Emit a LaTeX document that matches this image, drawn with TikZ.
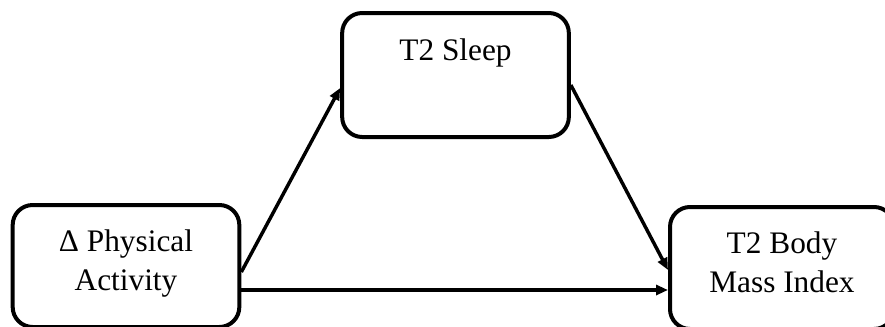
\documentclass[tikz,border=0pt]{standalone}
\usepackage{fontspec}
\setmainfont{Liberation Serif}
\usetikzlibrary{arrows.meta,calc}
\begin{document}
\begin{tikzpicture}[x=0.75pt,y=-0.75pt,
  box/.style={draw=black,line width=3pt,rounded corners=15pt,inner sep=0pt},
  lbl/.style={inner sep=0pt,align=center,font=\fontsize{23.5pt}{29pt}\selectfont},
  conn/.style={draw=black,line width=2.6pt,-{Triangle[length=9pt,width=7.5pt]}}]
\useasboundingbox (0,0) rectangle (885,326);
\node[box,minimum width=170pt,minimum height=91.5pt] (pa) at (126,266) {};
\node[box,minimum width=170pt,minimum height=93pt] (sl) at (455.5,75) {};
\node[box,minimum width=168pt,minimum height=91.5pt] (bmi) at (782,268) {};
\node[lbl,anchor=base] (tsl) at (455.5,60) {T2 Sleep};
\node[lbl,anchor=base] (tpa) at (126,290) {Δ Physical\\Activity};
\node[lbl,anchor=base] (tbmi) at (782,292) {T2 Body\\Mass Index};
\draw[conn] ($(pa.east)+(0,6)$) -- ($(sl.west)+(0,13)$);
\draw[conn] ($(sl.east)+(0,10)$) -- ($(bmi.west)+(0,2)$);
\draw[conn] ($(pa.east)+(0,24)$) -- ($(bmi.west)+(0,22)$);
\end{tikzpicture}
\end{document}
